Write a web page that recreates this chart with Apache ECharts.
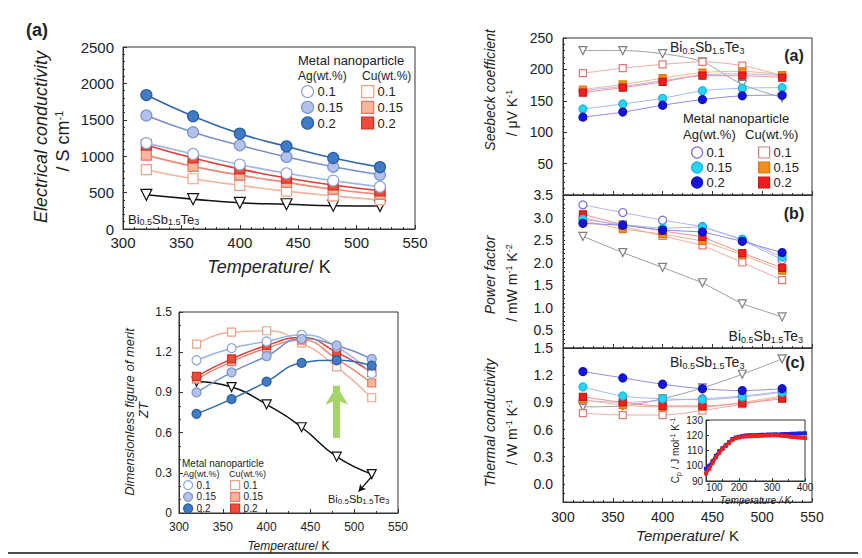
<!DOCTYPE html>
<html><head><meta charset="utf-8">
<script src="https://cdn.jsdelivr.net/npm/echarts@6/dist/echarts.min.js"></script>
<style>html,body{margin:0;padding:0;background:#fff}#c{width:862px;height:558px}</style>
</head><body><div id="c"></div>
<script>
// ---------- DATA ----------
const T = [320, 360, 400, 440, 480, 520];

// Electrical conductivity / S cm^-1
const sigAg01  = [1180, 1030, 885, 765, 665, 580];
const sigAg015 = [1560, 1330, 1150, 990, 855, 745];
const sigAg02  = [1840, 1550, 1310, 1135, 975, 850];
const sigCu01  = [815, 690, 600, 520, 455, 400];
const sigCu015 = [1015, 860, 740, 640, 545, 475];
const sigCu02  = [1155, 975, 825, 700, 605, 525];
const sigBi    = [470, 410, 360, 340, 320, 315];

// ZT
const ztAg01  = [1.14, 1.23, 1.28, 1.33, 1.24, 1.04];
const ztAg015 = [0.90, 1.05, 1.17, 1.30, 1.25, 1.15];
const ztAg02  = [0.74, 0.85, 0.98, 1.12, 1.14, 1.10];
const ztCu01  = [1.26, 1.35, 1.36, 1.27, 1.09, 0.86];
const ztCu015 = [1.00, 1.13, 1.23, 1.29, 1.15, 0.97];
const ztCu02  = [1.02, 1.15, 1.25, 1.31, 1.20, 1.05];
const ztBi    = [0.98, 0.94, 0.81, 0.64, 0.42, 0.29];

// Seebeck coefficient / uV K^-1
const sAg01  = [166, 173, 182, 191, 193, 190];
const sAg015 = [137, 145, 154, 166, 170, 171];
const sAg02  = [124, 132, 143, 152, 158, 159];
const sCu01  = [194, 202, 208, 212, 206, 190];
const sCu015 = [168, 176, 186, 195, 197, 191];
const sCu02  = [163, 171, 180, 190, 190, 187];
const sBi    = [230, 230, 225, 212, 176, 155];

// Power factor / mW m^-1 K^-2
const pfAg01  = [3.28, 3.11, 2.94, 2.80, 2.50, 2.06];
const pfAg015 = [2.96, 2.84, 2.76, 2.79, 2.52, 2.12];
const pfAg02  = [2.87, 2.83, 2.72, 2.68, 2.47, 2.22];
const pfCu01  = [3.00, 2.80, 2.59, 2.38, 2.00, 1.61];
const pfCu015 = [2.93, 2.74, 2.63, 2.48, 2.17, 1.82];
const pfCu02  = [3.07, 2.84, 2.70, 2.57, 2.21, 1.88];
const pfBi    = [2.58, 2.22, 1.89, 1.55, 1.08, 0.79];

// Thermal conductivity / W m^-1 K^-1
const kAg01  = [0.92, 0.90, 0.92, 0.94, 0.97, 1.02];
const kAg015 = [1.07, 0.97, 0.94, 0.93, 0.96, 1.01];
const kAg02  = [1.24, 1.17, 1.10, 1.05, 1.03, 1.05];
const kCu01  = [0.78, 0.76, 0.76, 0.81, 0.88, 0.96];
const kCu015 = [0.93, 0.87, 0.85, 0.85, 0.90, 0.97];
const kCu02  = [0.96, 0.90, 0.86, 0.86, 0.89, 0.94];
const kBi    = [0.85, 0.86, 0.94, 1.06, 1.21, 1.38];

// Inset: heat capacity
const cpT    = [100,110,120,130,140,150,160,170,180,190,200,210,220,230,240,250,260,270,280,290,300,310,320,330,340,350,360,370,380,390,400];
const cpBlue = [98,100,103,106.5,109.5,111.5,113.5,115.5,117.5,118.5,119,119.5,119.8,120,120,120,120.2,120.3,120.3,120.5,120.5,120.6,120.5,120.7,120.8,120.8,121,121,121.2,121.2,121.3];
const cpRed  = [95,98,102,105.5,108.5,111,113,115,117,118,118.5,119,119.2,119.3,119.4,119.5,119.6,119.7,119.8,119.9,120,120,119.9,119.7,119.5,119.2,119,118.8,118.6,118.4,118.2];

// ---------- STYLE ----------
const FF = '"Liberation Sans", Arial, Helvetica, sans-serif';
const TXT = '#222';
const LEFT = {
  Ag01:  {sym:'circle', fill:'#ffffff', stroke:'#8ea6d6', line:'#9fb4df'},
  Ag015: {sym:'circle', fill:'#b3c2ea', stroke:'#7b93cc', line:'#7890c8'},
  Ag02:  {sym:'circle', fill:'#3f7cc8', stroke:'#2d5e9c', line:'#336aa8'},
  Cu01:  {sym:'rect', fill:'#ffffff', stroke:'#f2a184', line:'#f5b39b'},
  Cu015: {sym:'rect', fill:'#f8b69d', stroke:'#ea7a66', line:'#ee8877'},
  Cu02:  {sym:'rect', fill:'#f24a38', stroke:'#c9332b', line:'#e43a34'},
  Bi:    {sym:'triangle', rot:180, fill:'#ffffff', stroke:'#111111', line:'#111111'}
};
const RIGHT = {
  Ag01:  {sym:'circle', fill:'#ffffff', stroke:'#7a6fd2', line:'#b7b2ea'},
  Ag015: {sym:'circle', fill:'#27d4f4', stroke:'#18b4e0', line:'#a7b6ec'},
  Ag02:  {sym:'circle', fill:'#1414de', stroke:'#1010b8', line:'#8b8bea'},
  Cu01:  {sym:'rect', fill:'#ffffff', stroke:'#e07a7a', line:'#f0a9a9'},
  Cu015: {sym:'rect', fill:'#f28c1e', stroke:'#e07a10', line:'#f4b488'},
  Cu02:  {sym:'rect', fill:'#f01e1e', stroke:'#d01515', line:'#f39090'},
  Bi:    {sym:'triangle', rot:180, fill:'#ffffff', stroke:'#808080', line:'#a0a0a0'}
};

function ser(name, xs, ys, idx, st, size, lw, smooth, extra) {
  const s = {
    name, type:'line', xAxisIndex: idx, yAxisIndex: idx,
    data: xs.map((t,i)=>[t, ys[i]]),
    symbol: st.sym, symbolSize: st.sym==='rect' ? size-1 : size,
    symbolRotate: st.rot || 0, smooth: smooth, showSymbol: true,
    itemStyle: {color: st.fill, borderColor: st.stroke, borderWidth: 1.2, opacity: 1},
    lineStyle: {color: st.line, width: lw},
    emphasis: {disabled: true}, animation: false
  };
  return Object.assign(s, extra || {});
}

const panels = [
  {idx:0, key:'σ', st:LEFT, size:11, lw:1.6, smooth:0.5, d:{Bi:sigBi, Cu01:sigCu01, Cu015:sigCu015, Cu02:sigCu02, Ag01:sigAg01, Ag015:sigAg015, Ag02:sigAg02}},
  {idx:1, key:'ZT', st:LEFT, size:9, lw:1.5, smooth:0.5, d:{Bi:ztBi, Cu01:ztCu01, Cu015:ztCu015, Cu02:ztCu02, Ag01:ztAg01, Ag015:ztAg015, Ag02:ztAg02}},
  {idx:2, key:'S', st:RIGHT, size:8, lw:1, smooth:0.3, d:{Bi:sBi, Cu01:sCu01, Ag01:sAg01, Ag015:sAg015, Ag02:sAg02, Cu015:sCu015, Cu02:sCu02}},
  {idx:3, key:'PF', st:RIGHT, size:8, lw:1, smooth:0, d:{Bi:pfBi, Cu01:pfCu01, Ag01:pfAg01, Cu015:pfCu015, Cu02:pfCu02, Ag015:pfAg015, Ag02:pfAg02}},
  {idx:4, key:'κ', st:RIGHT, size:8, lw:1, smooth:0.3, d:{Bi:kBi, Cu01:kCu01, Ag01:kAg01, Cu015:kCu015, Cu02:kCu02, Ag015:kAg015, Ag02:kAg02}}
];
const pretty = {Ag01:'Ag 0.1', Ag015:'Ag 0.15', Ag02:'Ag 0.2', Cu01:'Cu 0.1', Cu015:'Cu 0.15', Cu02:'Cu 0.2', Bi:'Bi0.5Sb1.5Te3'};

const series = [];
panels.forEach(p => {
  Object.keys(p.d).forEach(k => {
    series.push(ser(pretty[k] + ' ' + p.key, T, p.d[k], p.idx, p.st[k], p.size, p.lw, p.smooth));
  });
});

// annotation arrows on the ZT panel
series.push({
  name:'arrowZT', type:'line', xAxisIndex:1, yAxisIndex:1, data:[], silent:true,
  markLine:{silent:true, symbol:['none','arrow'], symbolSize:[17,19], animation:false,
    label:{show:false}, lineStyle:{color:'#a5d46b', width:7, type:'solid'},
    data:[[{coord:[480,0.56]},{coord:[480,0.95]}]]}
});
series.push({
  name:'curlZT', type:'line', xAxisIndex:1, yAxisIndex:1, data:[], silent:true,
  markLine:{silent:true, symbol:['none','arrow'], symbolSize:[6,7], animation:false,
    label:{show:false}, lineStyle:{color:'#111', width:1.2, type:'solid', curveness:0.6},
    data:[[{coord:[519,0.265]},{coord:[505,0.16]}]]}
});

// inset Cp
series.push({name:'Cp blue', type:'line', xAxisIndex:5, yAxisIndex:5, data: cpT.map((t,i)=>[t,cpBlue[i]]),
  symbol:'rect', symbolSize:4, itemStyle:{color:'#2020d8'}, lineStyle:{color:'#2020d8', width:3}, animation:false, z:3});
series.push({name:'Cp red', type:'line', xAxisIndex:5, yAxisIndex:5, data: cpT.map((t,i)=>[t,cpRed[i]]),
  symbol:'rect', symbolSize:4, itemStyle:{color:'#ee2020'}, lineStyle:{color:'#ee2020', width:3}, animation:false, z:4});

// ---------- AXES ----------
function axisBase(i, fs, margin) {
  return {
    type:'value', gridIndex:i,
    axisLine:{show:true, onZero:false, lineStyle:{color:'#333', width:1}},
    axisTick:{show:true, inside:true, length:4, lineStyle:{color:'#333'}},
    splitLine:{show:false},
    axisLabel:{fontFamily:FF, fontSize:fs, color:TXT, margin:margin, showMinLabel:true, showMaxLabel:true, hideOverlap:false}
  };
}
const xRich = (fs) => ({i:{fontFamily:FF, fontSize:fs, fontStyle:'italic', color:TXT}, n:{fontFamily:FF, fontSize:fs, color:TXT}});

const xAxes = [
  Object.assign(axisBase(0, 15, 6), {min:300, max:550, interval:50, minorTick:{show:true, splitNumber:5, length:2},
    name:'{i|Temperature}{n|/ K}', nameLocation:'middle', nameGap:29, nameTextStyle:{rich:xRich(18)}}),
  Object.assign(axisBase(1, 12, 8), {min:300, max:550, interval:50, minorTick:{show:true, splitNumber:2, length:2},
    name:'{i|Temperature}{n|/ K}', nameLocation:'middle', nameGap:27, nameTextStyle:{rich:xRich(12)}}),
  Object.assign(axisBase(2, 14, 8), {min:300, max:550, interval:50, axisLabel:{show:false}, minorTick:{show:true, splitNumber:5, length:2}}),
  Object.assign(axisBase(3, 14, 8), {min:300, max:550, interval:50, axisLabel:{show:false}, minorTick:{show:true, splitNumber:5, length:2}}),
  Object.assign(axisBase(4, 14, 8), {min:300, max:550, interval:50, minorTick:{show:true, splitNumber:5, length:2},
    name:'{i|Temperature}{n|/ K}', nameLocation:'middle', nameGap:26, nameTextStyle:{rich:xRich(15)}}),
  Object.assign(axisBase(5, 10, 1), {min:100, max:400, interval:100, axisTick:{show:true, inside:true, length:3},
    minorTick:{show:true, splitNumber:2, length:2},
    axisLabel:{fontFamily:FF, fontSize:10, color:TXT, margin:1, showMinLabel:true, showMaxLabel:true, alignMinLabel:'left'},
    name:'{i|Temperature / K}', nameLocation:'middle', nameGap:14, nameTextStyle:{rich:{i:{fontFamily:FF, fontSize:10, fontStyle:'italic', color:TXT}}}})
];

const yAxes = [
  Object.assign(axisBase(0, 15, 9), {min:0, max:2500, interval:500, minorTick:{show:true, splitNumber:5, length:2},
    axisLabel:{fontFamily:FF, fontSize:15, color:TXT, margin:9, showMinLabel:true, showMaxLabel:true, formatter: v => String(v)}}),
  Object.assign(axisBase(1, 12, 7), {min:0, max:1.5, interval:0.3, minorTick:{show:true, splitNumber:3, length:2},
    axisLabel:{fontFamily:FF, fontSize:12, color:TXT, margin:7, showMinLabel:true, showMaxLabel:true,
      formatter: v => Math.abs(v) < 1e-9 ? '0' : v.toFixed(1)}}),
  Object.assign(axisBase(2, 14, 10), {min:0, max:250, interval:50, minorTick:{show:true, splitNumber:5, length:2},
    axisLabel:{fontFamily:FF, fontSize:14, color:TXT, margin:10, showMaxLabel:true, formatter: v => v === 0 ? '' : String(v)}}),
  Object.assign(axisBase(3, 14, 10), {min:0.1, max:3.5, interval:0.1, axisTick:{show:true, inside:true, length:2},
    axisLabel:{fontFamily:FF, fontSize:14, color:TXT, margin:10, showMinLabel:true, showMaxLabel:true,
      formatter: v => { const k = Math.round(v*10); return k % 5 === 0 ? (k/10).toFixed(1) : ''; }}}),
  Object.assign(axisBase(4, 14, 10), {min:-0.2, max:1.5, interval:0.1, axisTick:{show:true, inside:true, length:2},
    axisLabel:{fontFamily:FF, fontSize:14, color:TXT, margin:10, showMinLabel:true, showMaxLabel:true,
      formatter: v => { const k = Math.round(v*10); return (k >= 0 && k % 3 === 0) ? (k/10).toFixed(1) : ''; }}}),
  Object.assign(axisBase(5, 10, 3), {min:90, max:130, interval:10, axisTick:{show:true, inside:true, length:3},
    name:'{a|C}{s|p}{a| / J mol}{u|-1}{a| K}{u|-1}', nameLocation:'middle', nameGap:23, nameRotate:90,
    nameTextStyle:{rich:{a:{fontFamily:FF, fontSize:10, color:TXT}, s:{fontFamily:FF, fontSize:7, color:TXT, padding:[6,0,0,0]}, u:{fontFamily:FF, fontSize:7, color:TXT, padding:[0,0,6,0]}}}})
];

const gridBase = {show:true, borderColor:'#333', borderWidth:1, backgroundColor:'transparent', containLabel:false, outerBoundsMode:'none'};
const grids = [
  Object.assign({left:123, top:47, width:292, height:182}, gridBase),
  Object.assign({left:179, top:312, width:219, height:201}, gridBase),
  Object.assign({left:563, top:38, width:249, height:157}, gridBase),
  Object.assign({left:563, top:195, width:249, height:153}, gridBase),
  Object.assign({left:563, top:348, width:249, height:154}, gridBase),
  Object.assign({left:706, top:420, width:99, height:61}, gridBase, {backgroundColor:'#ffffff'})
];

// ---------- LEGENDS ----------
function leg(keys, pkey, st, left, top, size, fs, gap) {
  return {
    orient:'vertical', left:left, top:top, itemWidth:size, itemHeight:size, itemGap:gap,
    selectedMode:false, padding:0,
    data: keys.map(k => ({name: pretty[k] + ' ' + pkey, icon: st[k].sym})),
    formatter: n => n.split(' ')[1],
    itemStyle:{borderWidth:1.2},
    textStyle:{fontFamily:FF, fontSize:fs, color:TXT, padding:[0,0,0,-1]}
  };
}
const legends = [
  leg(['Ag01','Ag015','Ag02'], 'σ', LEFT, 301, 85, 12, 13, 2.5),
  leg(['Cu01','Cu015','Cu02'], 'σ', LEFT, 361, 85, 12, 13, 2.5),
  leg(['Ag01','Ag015','Ag02'], 'ZT', LEFT, 183, 480, 9, 10, 1.5),
  leg(['Cu01','Cu015','Cu02'], 'ZT', LEFT, 230, 480, 9, 10, 1.5),
  leg(['Ag01','Ag015','Ag02'], 'S', RIGHT, 691, 146, 11, 13, 2),
  leg(['Cu01','Cu015','Cu02'], 'S', RIGHT, 758, 146, 11, 13, 2)
];

// ---------- TEXT ANNOTATIONS ----------
function txt(x, y, text, opt) {
  opt = opt || {};
  return {
    type:'text', x:x, y:y, rotation: opt.rot || 0, silent:true, z:100,
    style:{text:text, fill:TXT, font:(opt.fontStyle||'normal') + ' ' + (opt.bold?'bold ':'') + (opt.fs||13) + 'px ' + FF,
      fontFamily:FF, fontSize:opt.fs||13, fontStyle:opt.fontStyle||'normal', fontWeight:opt.bold?'bold':'normal',
      textAlign:opt.align||'center', align:opt.align||'center',
      textVerticalAlign:'middle', verticalAlign:'middle', rich:opt.rich}
  };
}
function biRich(m, s, pad) {
  return {m:{fontFamily:FF, fontSize:m, color:TXT}, s:{fontFamily:FF, fontSize:s, color:TXT, padding:[pad,0,0,0]}};
}
const BI = '{m|Bi}{s|0.5}{m|Sb}{s|1.5}{m|Te}{s|3}';
function supRich(fs, sfs, pad, italic) {
  return {a:{fontFamily:FF, fontSize:fs, color:TXT, fontStyle: italic?'italic':'normal'}, u:{fontFamily:FF, fontSize:sfs, color:TXT, padding:[0,0,pad,0]}};
}
const R90 = Math.PI / 2;

const graphics = [
  // panel labels
  txt(37, 30, '(a)', {fs:18, bold:true}),
  txt(794, 55, '(a)', {fs:16, bold:true}),
  txt(794, 213, '(b)', {fs:16, bold:true}),
  txt(795, 362, '(c)', {fs:16, bold:true}),
  // y titles, left
  txt(41, 137, 'Electrical conductivity', {fs:18, fontStyle:'italic', rot:R90}),
  txt(63, 141, '{a|/ S cm}{u|-1}', {rot:R90, rich:supRich(18, 11, 9)}),
  txt(129, 412, 'Dimensionless figure of merit', {fs:13, fontStyle:'italic', rot:R90}),
  txt(143, 410, 'ZT', {fs:13, fontStyle:'italic', rot:R90}),
  // y titles, right
  txt(490, 90, 'Seebeck coefficient', {fs:14, fontStyle:'italic', rot:R90}),
  txt(512, 113, '{a|/ μV K}{u|-1}', {rot:R90, rich:supRich(14, 9, 7)}),
  txt(490, 275, 'Power factor', {fs:14, fontStyle:'italic', rot:R90}),
  txt(512, 283, '{a|/ mW m}{u|-1}{a| K}{u|-2}', {rot:R90, rich:supRich(14, 9, 7)}),
  txt(490, 423, 'Thermal conductivity', {fs:14, fontStyle:'italic', rot:R90}),
  txt(512, 432, '{a|/ W m}{u|-1}{a| K}{u|-1}', {rot:R90, rich:supRich(14, 9, 7)}),
  // legend headers
  txt(298, 60, 'Metal nanoparticle', {fs:13, align:'left'}),
  txt(298, 76, 'Ag(wt.%)', {fs:12, align:'left'}),
  txt(362, 76, 'Cu(wt.%)', {fs:12, align:'left'}),
  txt(182, 463.5, 'Metal nanoparticle', {fs:10, align:'left'}),
  txt(183, 474, 'Ag(wt.%)', {fs:9, align:'left'}),
  txt(229, 474, 'Cu(wt.%)', {fs:9, align:'left'}),
  txt(683, 118, 'Metal nanoparticle', {fs:13, align:'left'}),
  txt(683, 134, 'Ag(wt.%)', {fs:13, align:'left'}),
  txt(745, 134, 'Cu(wt.%)', {fs:13, align:'left'}),
  // compound labels
  txt(128, 219, BI, {align:'left', rich:biRich(13, 9, 6)}),
  txt(328, 499, BI, {align:'left', rich:biRich(11, 8, 5)}),
  txt(670, 47, BI, {align:'left', rich:biRich(14, 9, 7)}),
  txt(803, 336, BI, {align:'right', rich:biRich(14, 9, 7)}),
  txt(670, 362, BI, {align:'left', rich:biRich(14, 9, 7)}),
  // bottom rule
  {type:'line', silent:true, shape:{x1:8, y1:553, x2:858, y2:553}, style:{stroke:'#111', lineWidth:1.5}}
];

const chart = echarts.init(document.getElementById('c'), null, {renderer:'svg', width:862, height:558});
chart.setOption({
  backgroundColor:'#ffffff',
  animation:false,
  textStyle:{fontFamily:FF},
  grid: grids, xAxis: xAxes, yAxis: yAxes,
  legend: legends,
  series: series,
  graphic: graphics
});
</script></body></html>
